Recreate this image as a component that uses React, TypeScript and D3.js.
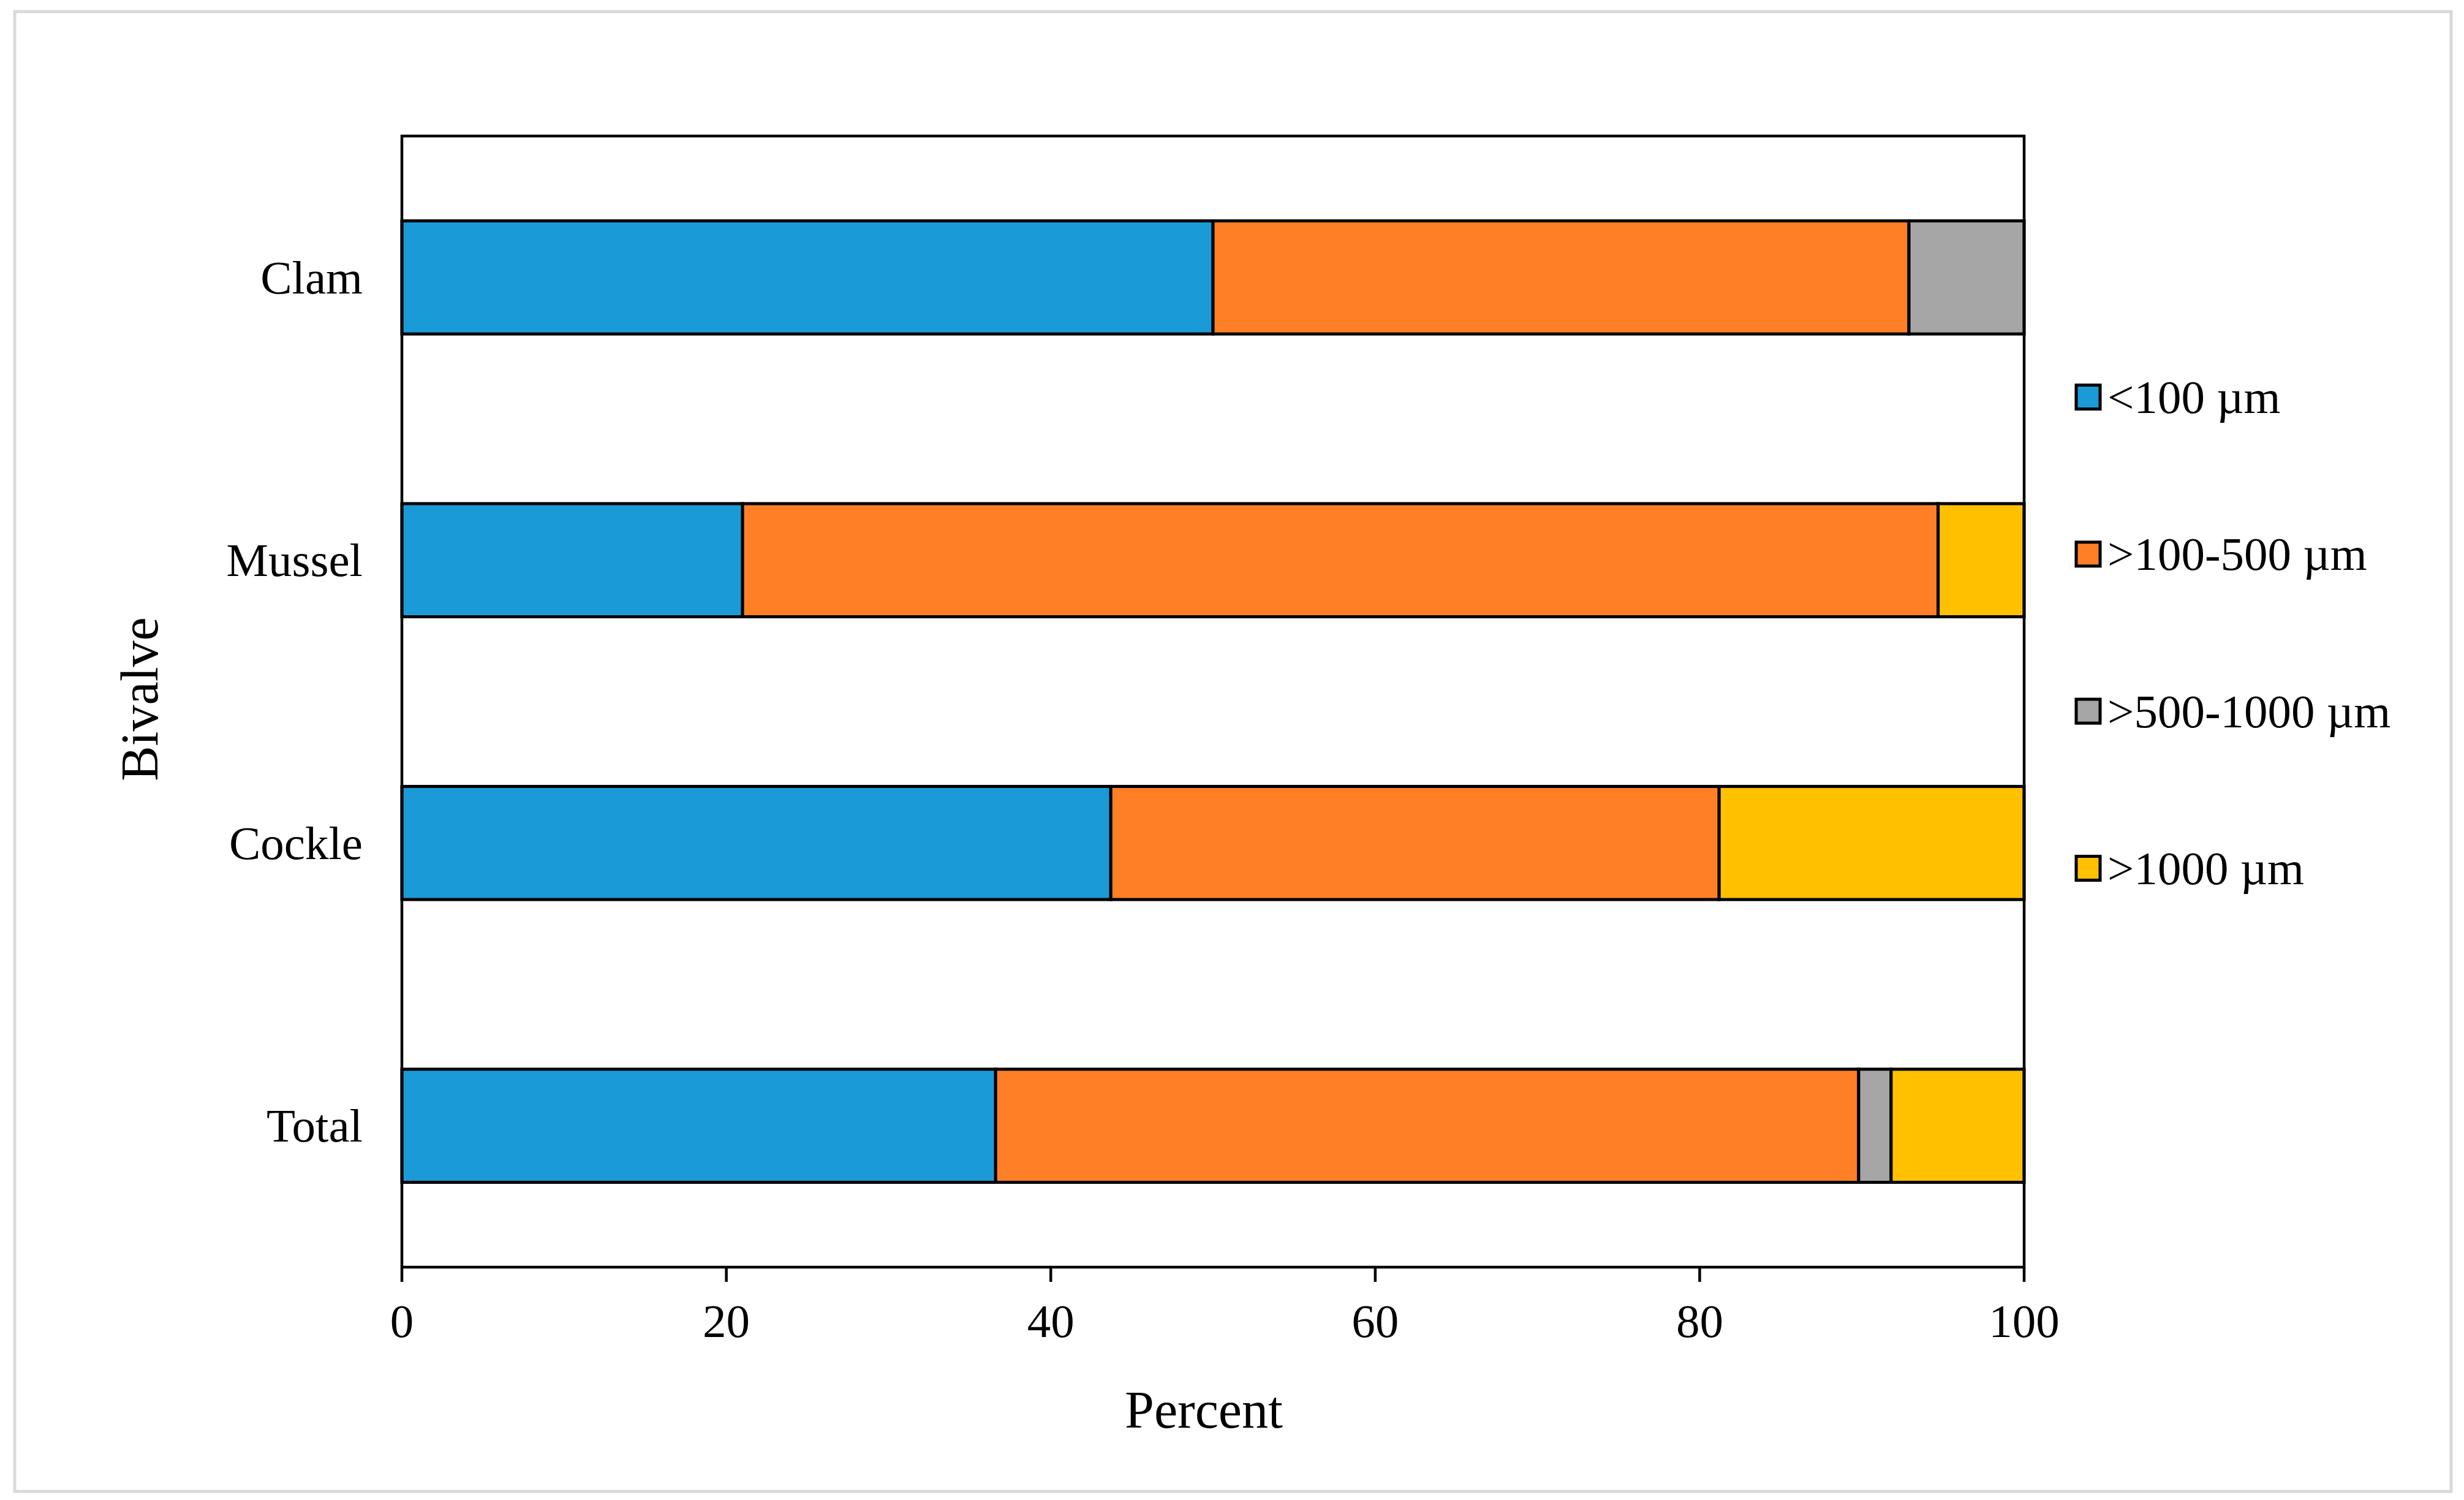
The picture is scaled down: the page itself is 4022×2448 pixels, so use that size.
import React from "react";
import * as d3 from "d3";

const categories = ["Clam", "Mussel", "Cockle", "Total"];
const seriesNames = ["<100 µm", ">100-500 µm", ">500-1000 µm", ">1000 µm"];
const seriesColors = ["#1A9BD7", "#FF7F27", "#A6A6A6", "#FFC000"];
const under100 = [50.0, 21.0, 43.7, 36.6];
const from100to500 = [42.9, 73.7, 37.5, 53.2];
const from500to1000 = [7.1, 0, 0, 2.0];
const over1000 = [0, 5.3, 18.8, 8.2];
const xTicks = [0, 20, 40, 60, 80, 100];

const W = 4022;
const H = 2448;
const FONT = "'Liberation Serif', 'Times New Roman', serif";

export default function App() {
  const left = 656, right = 3304, top = 222, bottom = 2068;
  const x = d3.scaleLinear().domain([0, 100]).range([left, right]);
  const y = d3.scaleBand<string>().domain(categories).range([top, bottom]).paddingInner(0.6).paddingOuter(0.3);

  const rows = categories.map((c, i) => ({
    cat: c,
    s0: under100[i],
    s1: from100to500[i],
    s2: from500to1000[i],
    s3: over1000[i],
  }));
  const stack = d3.stack<any>().keys(["s0", "s1", "s2", "s3"]);
  const layers = stack(rows);

  const legendY = d3.scalePoint<string>().domain(seriesNames).range([648, 1417]);
  const sq = 39;

  return (
    <svg width={W} height={H} style={{ position: "absolute", left: 0, top: 0, display: "block", background: "#fff" }}>
      <rect x={0} y={0} width={W} height={H} fill="#fff" />
      <rect x={24} y={19} width={3977} height={2415} fill="none" stroke="#d9d9d9" strokeWidth={5} />

      {/* bars */}
      {layers.map((layer, li) => (
        <g key={li}>
          {layer.map((d, di) => {
            const w = x(d[1]) - x(d[0]);
            if (w <= 0) return null;
            return (
              <rect
                key={di}
                x={x(d[0])}
                y={y(categories[di])!}
                width={w}
                height={y.bandwidth()}
                fill={seriesColors[li]}
                stroke="#000"
                strokeWidth={5}
              />
            );
          })}
        </g>
      ))}

      {/* frame */}
      <rect x={left} y={top} width={right - left} height={bottom - top} fill="none" stroke="#000" strokeWidth={4.5} />

      {/* x ticks */}
      {xTicks.map((t) => (
        <g key={t}>
          <line x1={x(t)} x2={x(t)} y1={bottom} y2={bottom + 24} stroke="#000" strokeWidth={4.5} />
          <text x={x(t)} y={2182} textAnchor="middle" fontFamily={FONT} fontSize={77} fill="#000">
            {t}
          </text>
        </g>
      ))}

      {/* category labels */}
      {categories.map((c) => (
        <text
          key={c}
          x={592}
          y={y(c)! + y.bandwidth() / 2 + 26}
          textAnchor="end"
          fontFamily={FONT}
          fontSize={77}
          fill="#000"
        >
          {c}
        </text>
      ))}

      {/* axis titles */}
      <text x={1965} y={2330} textAnchor="middle" fontFamily={FONT} fontSize={86} fill="#000">
        Percent
      </text>
      <text
        transform={`translate(257, 1141) rotate(-90)`}
        textAnchor="middle"
        fontFamily={FONT}
        fontSize={86}
        fill="#000"
      >
        Bivalve
      </text>

      {/* legend */}
      {seriesNames.map((n, i) => {
        const cy = legendY(n)!;
        return (
          <g key={n}>
            <rect x={3389} y={cy - sq / 2} width={sq} height={sq} fill={seriesColors[i]} stroke="#000" strokeWidth={5} />
            <text x={3440} y={cy + 26} fontFamily={FONT} fontSize={77} fill="#000">
              {n}
            </text>
          </g>
        );
      })}
    </svg>
  );
}
